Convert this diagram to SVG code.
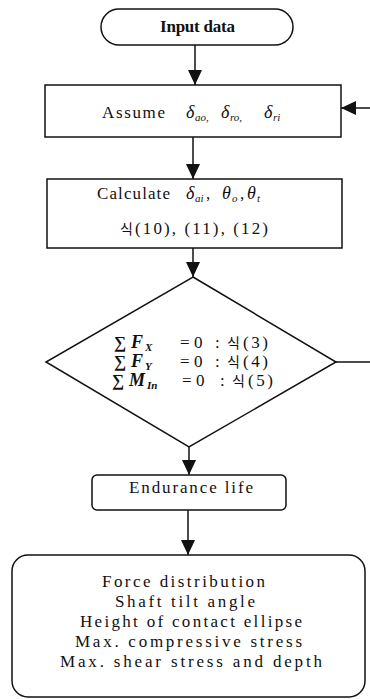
<svg xmlns="http://www.w3.org/2000/svg" width="370" height="699" viewBox="0 0 370 699">
<style>
.s{fill:none;stroke:#111;stroke-width:1.5}
.n{fill:#fff;stroke:#111;stroke-width:1.5}
.t{font-family:"Liberation Serif","Noto Sans CJK KR",serif;font-size:17px;fill:#111}
.g{font-family:"Liberation Serif",serif;font-style:italic;font-size:18px;fill:#111}
.sub{font-family:"Liberation Serif",serif;font-style:italic;font-size:11px;fill:#111}
.k{font-family:"Noto Sans CJK KR",sans-serif;font-size:14px;fill:#111}
.b{font-family:"Liberation Serif",serif;font-weight:bold;font-size:17px;fill:#111}
.bi{font-family:"Liberation Serif",serif;font-weight:bold;font-style:italic;font-size:18px;fill:#111}
</style>
<defs>
<marker id="ah" markerUnits="userSpaceOnUse" markerWidth="16" markerHeight="16" viewBox="0 0 16 16" refX="15" refY="8" orient="auto">
<path d="M0,1 L15,8 L0,15 Z" fill="#111"/>
</marker>
</defs>
<g id="connectors">
<line class="s" x1="195" y1="45" x2="195" y2="85" marker-end="url(#ah)"/>
<line class="s" x1="193" y1="137" x2="193" y2="179" marker-end="url(#ah)"/>
<line class="s" x1="193" y1="248" x2="193" y2="277" marker-end="url(#ah)"/>
<line class="s" x1="189" y1="447" x2="189" y2="475" marker-end="url(#ah)"/>
<line class="s" x1="188" y1="510" x2="188" y2="555" marker-end="url(#ah)"/>
<line class="s" x1="336" y1="362" x2="370" y2="362"/>
<line class="s" x1="370" y1="108" x2="341" y2="108" marker-end="url(#ah)"/>
</g>
<g id="input">
<rect class="n" x="101" y="9" width="192" height="36" rx="18" ry="18"/>
<text class="t" x="160" y="32" font-weight="bold" font-size="15" textLength="75">Input data</text>
</g>
<g id="assume">
<rect class="n" x="45" y="85" width="296" height="52"/>
<text class="t" x="102" y="118" textLength="63">Assume</text>
<text class="g" x="186" y="118">δ</text><text class="sub" x="195" y="121">ao,</text>
<text class="g" x="221" y="118">δ</text><text class="sub" x="230" y="121">ro,</text>
<text class="g" x="264" y="118">δ</text><text class="sub" x="273" y="121">ri</text>
</g>
<g id="calculate">
<rect class="n" x="47" y="179" width="295" height="69"/>
<text class="t" x="97" y="199" textLength="73">Calculate</text>
<text class="g" x="186" y="199">δ</text><text class="sub" x="195" y="202">ai</text><text class="t" x="206" y="199">,</text>
<text class="g" x="222" y="199">θ</text><text class="sub" x="232" y="202">o</text><text class="t" x="240" y="199">,</text>
<text class="g" x="247" y="199">θ</text><text class="sub" x="257" y="202">t</text>
<text class="k" x="120" y="234">식</text><text class="t" x="135" y="234" textLength="133">(10), (11), (12)</text>
</g>
<g id="decision">
<polygon class="n" points="193,277 336,362 189,447 46,362"/>
<text class="b" x="114" y="348">∑</text><text class="bi" x="131" y="348">F</text><text class="sub" x="145" y="351" font-weight="bold">X</text>
<text class="t" x="180" y="348" font-size="18">=</text><text class="t" x="194" y="348" font-size="18">0</text><text class="t" x="215" y="348">:</text>
<text class="k" x="227" y="348">식</text><text class="t" x="243" y="348" textLength="25">(3)</text>
<text class="b" x="114" y="367">∑</text><text class="bi" x="131" y="367">F</text><text class="sub" x="145" y="370" font-weight="bold">Y</text>
<text class="t" x="180" y="367" font-size="18">=</text><text class="t" x="194" y="367" font-size="18">0</text><text class="t" x="215" y="367">:</text>
<text class="k" x="227" y="367">식</text><text class="t" x="243" y="367" textLength="25">(4)</text>
<text class="b" x="112" y="386">∑</text><text class="bi" x="129" y="386">M</text><text class="sub" x="147" y="389" font-weight="bold">In</text>
<text class="t" x="182" y="386" font-size="18">=</text><text class="t" x="196" y="386" font-size="18">0</text><text class="t" x="220" y="386">:</text>
<text class="k" x="232" y="386">식</text><text class="t" x="248" y="386" textLength="25">(5)</text>
</g>
<g id="endurance">
<rect class="n" x="92" y="475" width="194" height="35" rx="5" ry="5"/>
<text class="t" x="129" y="493" textLength="124">Endurance  life</text>
</g>
<g id="results">
<rect class="n" x="12" y="555" width="353" height="142" rx="16" ry="16"/>
<text class="t" x="102" y="587" textLength="163">Force distribution</text>
<text class="t" x="115" y="607" textLength="140">Shaft tilt angle</text>
<text class="t" x="80" y="627" textLength="222">Height of contact ellipse</text>
<text class="t" x="75" y="647" textLength="227">Max. compressive stress</text>
<text class="t" x="60" y="667" textLength="262">Max. shear stress and depth</text>
</g>
</svg>
